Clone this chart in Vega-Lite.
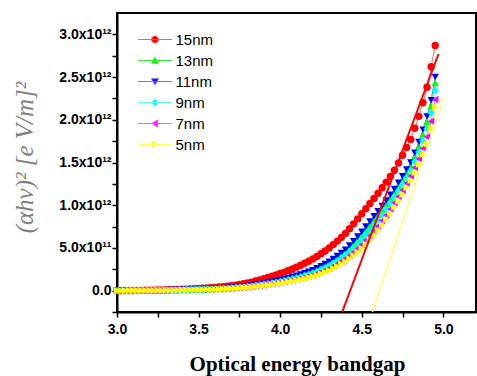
{
"$schema":"https://vega.github.io/schema/vega-lite/v6.json",
"autosize":"none",
"width":359,"height":299,
"padding":{"left":117,"top":13,"right":1,"bottom":64},
"background":"white",
"config":{"view":{"stroke":"#000","strokeWidth":2},"axis":{"grid":false}},
"data":{"values":[
{"s":"15nm","x":3,"y":0},{"s":"15nm","x":3.025,"y":0},{"s":"15nm","x":3.05,"y":0.001},{"s":"15nm","x":3.075,"y":0.001},{"s":"15nm","x":3.1,"y":0.002},{"s":"15nm","x":3.125,"y":0.003},{"s":"15nm","x":3.15,"y":0.003},{"s":"15nm","x":3.175,"y":0.004},{"s":"15nm","x":3.2,"y":0.005},{"s":"15nm","x":3.225,"y":0.006},
{"s":"15nm","x":3.25,"y":0.007},{"s":"15nm","x":3.275,"y":0.009},{"s":"15nm","x":3.3,"y":0.01},{"s":"15nm","x":3.325,"y":0.011},{"s":"15nm","x":3.35,"y":0.013},{"s":"15nm","x":3.375,"y":0.014},{"s":"15nm","x":3.4,"y":0.016},{"s":"15nm","x":3.425,"y":0.018},{"s":"15nm","x":3.45,"y":0.02},{"s":"15nm","x":3.475,"y":0.022},
{"s":"15nm","x":3.5,"y":0.025},{"s":"15nm","x":3.525,"y":0.028},{"s":"15nm","x":3.55,"y":0.031},{"s":"15nm","x":3.575,"y":0.034},{"s":"15nm","x":3.6,"y":0.038},{"s":"15nm","x":3.625,"y":0.042},{"s":"15nm","x":3.65,"y":0.046},{"s":"15nm","x":3.675,"y":0.051},{"s":"15nm","x":3.7,"y":0.057},{"s":"15nm","x":3.725,"y":0.064},
{"s":"15nm","x":3.75,"y":0.071},{"s":"15nm","x":3.775,"y":0.08},{"s":"15nm","x":3.8,"y":0.09},{"s":"15nm","x":3.825,"y":0.1},{"s":"15nm","x":3.85,"y":0.112},{"s":"15nm","x":3.875,"y":0.125},{"s":"15nm","x":3.9,"y":0.14},{"s":"15nm","x":3.925,"y":0.154},{"s":"15nm","x":3.95,"y":0.168},{"s":"15nm","x":3.975,"y":0.184},
{"s":"15nm","x":4,"y":0.2},{"s":"15nm","x":4.025,"y":0.217},{"s":"15nm","x":4.05,"y":0.235},{"s":"15nm","x":4.075,"y":0.254},{"s":"15nm","x":4.1,"y":0.275},{"s":"15nm","x":4.125,"y":0.297},{"s":"15nm","x":4.15,"y":0.32},{"s":"15nm","x":4.175,"y":0.344},{"s":"15nm","x":4.2,"y":0.37},{"s":"15nm","x":4.225,"y":0.4},
{"s":"15nm","x":4.25,"y":0.431},{"s":"15nm","x":4.275,"y":0.464},{"s":"15nm","x":4.3,"y":0.5},{"s":"15nm","x":4.325,"y":0.539},{"s":"15nm","x":4.35,"y":0.58},{"s":"15nm","x":4.375,"y":0.624},{"s":"15nm","x":4.4,"y":0.67},{"s":"15nm","x":4.425,"y":0.725},{"s":"15nm","x":4.45,"y":0.782},{"s":"15nm","x":4.475,"y":0.84},
{"s":"15nm","x":4.5,"y":0.9},{"s":"15nm","x":4.525,"y":0.96},{"s":"15nm","x":4.55,"y":1.02},{"s":"15nm","x":4.575,"y":1.08},{"s":"15nm","x":4.6,"y":1.14},{"s":"15nm","x":4.625,"y":1.205},{"s":"15nm","x":4.65,"y":1.27},{"s":"15nm","x":4.675,"y":1.338},{"s":"15nm","x":4.7,"y":1.41},{"s":"15nm","x":4.725,"y":1.495},
{"s":"15nm","x":4.75,"y":1.585},{"s":"15nm","x":4.775,"y":1.675},{"s":"15nm","x":4.8,"y":1.77},{"s":"15nm","x":4.825,"y":1.9},{"s":"15nm","x":4.85,"y":2.04},{"s":"15nm","x":4.875,"y":2.2},{"s":"15nm","x":4.9,"y":2.38},{"s":"15nm","x":4.925,"y":2.62},{"s":"15nm","x":4.95,"y":2.87},
{"s":"13nm","x":3,"y":0},{"s":"13nm","x":3.025,"y":0},{"s":"13nm","x":3.05,"y":0},{"s":"13nm","x":3.075,"y":0.001},{"s":"13nm","x":3.1,"y":0.001},{"s":"13nm","x":3.125,"y":0.001},{"s":"13nm","x":3.15,"y":0.002},{"s":"13nm","x":3.175,"y":0.002},{"s":"13nm","x":3.2,"y":0.003},{"s":"13nm","x":3.225,"y":0.004},
{"s":"13nm","x":3.25,"y":0.004},{"s":"13nm","x":3.275,"y":0.005},{"s":"13nm","x":3.3,"y":0.006},{"s":"13nm","x":3.325,"y":0.007},{"s":"13nm","x":3.35,"y":0.007},{"s":"13nm","x":3.375,"y":0.008},{"s":"13nm","x":3.4,"y":0.009},{"s":"13nm","x":3.425,"y":0.01},{"s":"13nm","x":3.45,"y":0.011},{"s":"13nm","x":3.475,"y":0.013},
{"s":"13nm","x":3.5,"y":0.014},{"s":"13nm","x":3.525,"y":0.016},{"s":"13nm","x":3.55,"y":0.018},{"s":"13nm","x":3.575,"y":0.02},{"s":"13nm","x":3.6,"y":0.021},{"s":"13nm","x":3.625,"y":0.024},{"s":"13nm","x":3.65,"y":0.027},{"s":"13nm","x":3.675,"y":0.03},{"s":"13nm","x":3.7,"y":0.034},{"s":"13nm","x":3.725,"y":0.037},
{"s":"13nm","x":3.75,"y":0.042},{"s":"13nm","x":3.775,"y":0.047},{"s":"13nm","x":3.8,"y":0.052},{"s":"13nm","x":3.825,"y":0.058},{"s":"13nm","x":3.85,"y":0.065},{"s":"13nm","x":3.875,"y":0.072},{"s":"13nm","x":3.9,"y":0.08},{"s":"13nm","x":3.925,"y":0.089},{"s":"13nm","x":3.95,"y":0.098},{"s":"13nm","x":3.975,"y":0.107},
{"s":"13nm","x":4,"y":0.118},{"s":"13nm","x":4.025,"y":0.129},{"s":"13nm","x":4.05,"y":0.14},{"s":"13nm","x":4.075,"y":0.152},{"s":"13nm","x":4.1,"y":0.164},{"s":"13nm","x":4.125,"y":0.178},{"s":"13nm","x":4.15,"y":0.193},{"s":"13nm","x":4.175,"y":0.209},{"s":"13nm","x":4.2,"y":0.225},{"s":"13nm","x":4.225,"y":0.247},
{"s":"13nm","x":4.25,"y":0.269},{"s":"13nm","x":4.275,"y":0.294},{"s":"13nm","x":4.3,"y":0.319},{"s":"13nm","x":4.325,"y":0.349},{"s":"13nm","x":4.35,"y":0.382},{"s":"13nm","x":4.375,"y":0.416},{"s":"13nm","x":4.4,"y":0.452},{"s":"13nm","x":4.425,"y":0.497},{"s":"13nm","x":4.45,"y":0.546},{"s":"13nm","x":4.475,"y":0.597},
{"s":"13nm","x":4.5,"y":0.65},{"s":"13nm","x":4.525,"y":0.708},{"s":"13nm","x":4.55,"y":0.766},{"s":"13nm","x":4.575,"y":0.825},{"s":"13nm","x":4.6,"y":0.884},{"s":"13nm","x":4.625,"y":0.946},{"s":"13nm","x":4.65,"y":1.01},{"s":"13nm","x":4.675,"y":1.078},{"s":"13nm","x":4.7,"y":1.147},{"s":"13nm","x":4.725,"y":1.221},
{"s":"13nm","x":4.75,"y":1.297},{"s":"13nm","x":4.775,"y":1.376},{"s":"13nm","x":4.8,"y":1.458},{"s":"13nm","x":4.825,"y":1.569},{"s":"13nm","x":4.85,"y":1.688},{"s":"13nm","x":4.875,"y":1.827},{"s":"13nm","x":4.9,"y":1.976},{"s":"13nm","x":4.925,"y":2.164},{"s":"13nm","x":4.95,"y":2.43},
{"s":"11nm","x":3,"y":0},{"s":"11nm","x":3.025,"y":0},{"s":"11nm","x":3.05,"y":0},{"s":"11nm","x":3.075,"y":0.001},{"s":"11nm","x":3.1,"y":0.001},{"s":"11nm","x":3.125,"y":0.001},{"s":"11nm","x":3.15,"y":0.002},{"s":"11nm","x":3.175,"y":0.002},{"s":"11nm","x":3.2,"y":0.003},{"s":"11nm","x":3.225,"y":0.004},
{"s":"11nm","x":3.25,"y":0.004},{"s":"11nm","x":3.275,"y":0.005},{"s":"11nm","x":3.3,"y":0.006},{"s":"11nm","x":3.325,"y":0.007},{"s":"11nm","x":3.35,"y":0.008},{"s":"11nm","x":3.375,"y":0.009},{"s":"11nm","x":3.4,"y":0.01},{"s":"11nm","x":3.425,"y":0.011},{"s":"11nm","x":3.45,"y":0.012},{"s":"11nm","x":3.475,"y":0.014},
{"s":"11nm","x":3.5,"y":0.015},{"s":"11nm","x":3.525,"y":0.017},{"s":"11nm","x":3.55,"y":0.019},{"s":"11nm","x":3.575,"y":0.021},{"s":"11nm","x":3.6,"y":0.023},{"s":"11nm","x":3.625,"y":0.026},{"s":"11nm","x":3.65,"y":0.029},{"s":"11nm","x":3.675,"y":0.032},{"s":"11nm","x":3.7,"y":0.036},{"s":"11nm","x":3.725,"y":0.04},
{"s":"11nm","x":3.75,"y":0.045},{"s":"11nm","x":3.775,"y":0.05},{"s":"11nm","x":3.8,"y":0.055},{"s":"11nm","x":3.825,"y":0.062},{"s":"11nm","x":3.85,"y":0.069},{"s":"11nm","x":3.875,"y":0.077},{"s":"11nm","x":3.9,"y":0.085},{"s":"11nm","x":3.925,"y":0.094},{"s":"11nm","x":3.95,"y":0.104},{"s":"11nm","x":3.975,"y":0.114},
{"s":"11nm","x":4,"y":0.125},{"s":"11nm","x":4.025,"y":0.137},{"s":"11nm","x":4.05,"y":0.149},{"s":"11nm","x":4.075,"y":0.162},{"s":"11nm","x":4.1,"y":0.175},{"s":"11nm","x":4.125,"y":0.19},{"s":"11nm","x":4.15,"y":0.206},{"s":"11nm","x":4.175,"y":0.223},{"s":"11nm","x":4.2,"y":0.24},{"s":"11nm","x":4.225,"y":0.263},
{"s":"11nm","x":4.25,"y":0.287},{"s":"11nm","x":4.275,"y":0.313},{"s":"11nm","x":4.3,"y":0.34},{"s":"11nm","x":4.325,"y":0.372},{"s":"11nm","x":4.35,"y":0.406},{"s":"11nm","x":4.375,"y":0.442},{"s":"11nm","x":4.4,"y":0.48},{"s":"11nm","x":4.425,"y":0.528},{"s":"11nm","x":4.45,"y":0.58},{"s":"11nm","x":4.475,"y":0.634},
{"s":"11nm","x":4.5,"y":0.69},{"s":"11nm","x":4.525,"y":0.75},{"s":"11nm","x":4.55,"y":0.81},{"s":"11nm","x":4.575,"y":0.87},{"s":"11nm","x":4.6,"y":0.93},{"s":"11nm","x":4.625,"y":0.992},{"s":"11nm","x":4.65,"y":1.055},{"s":"11nm","x":4.675,"y":1.122},{"s":"11nm","x":4.7,"y":1.19},{"s":"11nm","x":4.725,"y":1.264},
{"s":"11nm","x":4.75,"y":1.34},{"s":"11nm","x":4.775,"y":1.418},{"s":"11nm","x":4.8,"y":1.5},{"s":"11nm","x":4.825,"y":1.615},{"s":"11nm","x":4.85,"y":1.74},{"s":"11nm","x":4.875,"y":1.885},{"s":"11nm","x":4.9,"y":2.04},{"s":"11nm","x":4.925,"y":2.23},{"s":"11nm","x":4.95,"y":2.5},
{"s":"9nm","x":3,"y":0},{"s":"9nm","x":3.025,"y":0},{"s":"9nm","x":3.05,"y":0},{"s":"9nm","x":3.075,"y":0.001},{"s":"9nm","x":3.1,"y":0.001},{"s":"9nm","x":3.125,"y":0.001},{"s":"9nm","x":3.15,"y":0.002},{"s":"9nm","x":3.175,"y":0.002},{"s":"9nm","x":3.2,"y":0.003},{"s":"9nm","x":3.225,"y":0.003},
{"s":"9nm","x":3.25,"y":0.004},{"s":"9nm","x":3.275,"y":0.004},{"s":"9nm","x":3.3,"y":0.005},{"s":"9nm","x":3.325,"y":0.006},{"s":"9nm","x":3.35,"y":0.007},{"s":"9nm","x":3.375,"y":0.008},{"s":"9nm","x":3.4,"y":0.009},{"s":"9nm","x":3.425,"y":0.01},{"s":"9nm","x":3.45,"y":0.01},{"s":"9nm","x":3.475,"y":0.012},
{"s":"9nm","x":3.5,"y":0.013},{"s":"9nm","x":3.525,"y":0.014},{"s":"9nm","x":3.55,"y":0.016},{"s":"9nm","x":3.575,"y":0.018},{"s":"9nm","x":3.6,"y":0.019},{"s":"9nm","x":3.625,"y":0.022},{"s":"9nm","x":3.65,"y":0.025},{"s":"9nm","x":3.675,"y":0.027},{"s":"9nm","x":3.7,"y":0.031},{"s":"9nm","x":3.725,"y":0.034},
{"s":"9nm","x":3.75,"y":0.038},{"s":"9nm","x":3.775,"y":0.043},{"s":"9nm","x":3.8,"y":0.047},{"s":"9nm","x":3.825,"y":0.053},{"s":"9nm","x":3.85,"y":0.06},{"s":"9nm","x":3.875,"y":0.067},{"s":"9nm","x":3.9,"y":0.074},{"s":"9nm","x":3.925,"y":0.082},{"s":"9nm","x":3.95,"y":0.09},{"s":"9nm","x":3.975,"y":0.099},
{"s":"9nm","x":4,"y":0.108},{"s":"9nm","x":4.025,"y":0.119},{"s":"9nm","x":4.05,"y":0.129},{"s":"9nm","x":4.075,"y":0.14},{"s":"9nm","x":4.1,"y":0.151},{"s":"9nm","x":4.125,"y":0.164},{"s":"9nm","x":4.15,"y":0.177},{"s":"9nm","x":4.175,"y":0.192},{"s":"9nm","x":4.2,"y":0.206},{"s":"9nm","x":4.225,"y":0.226},
{"s":"9nm","x":4.25,"y":0.247},{"s":"9nm","x":4.275,"y":0.269},{"s":"9nm","x":4.3,"y":0.293},{"s":"9nm","x":4.325,"y":0.321},{"s":"9nm","x":4.35,"y":0.351},{"s":"9nm","x":4.375,"y":0.383},{"s":"9nm","x":4.4,"y":0.417},{"s":"9nm","x":4.425,"y":0.459},{"s":"9nm","x":4.45,"y":0.504},{"s":"9nm","x":4.475,"y":0.551},
{"s":"9nm","x":4.5,"y":0.6},{"s":"9nm","x":4.525,"y":0.655},{"s":"9nm","x":4.55,"y":0.711},{"s":"9nm","x":4.575,"y":0.768},{"s":"9nm","x":4.6,"y":0.827},{"s":"9nm","x":4.625,"y":0.889},{"s":"9nm","x":4.65,"y":0.954},{"s":"9nm","x":4.675,"y":1.023},{"s":"9nm","x":4.7,"y":1.093},{"s":"9nm","x":4.725,"y":1.167},
{"s":"9nm","x":4.75,"y":1.243},{"s":"9nm","x":4.775,"y":1.323},{"s":"9nm","x":4.8,"y":1.406},{"s":"9nm","x":4.825,"y":1.511},{"s":"9nm","x":4.85,"y":1.623},{"s":"9nm","x":4.875,"y":1.755},{"s":"9nm","x":4.9,"y":1.896},{"s":"9nm","x":4.925,"y":2.082},{"s":"9nm","x":4.95,"y":2.343},
{"s":"7nm","x":3,"y":0},{"s":"7nm","x":3.025,"y":0},{"s":"7nm","x":3.05,"y":0},{"s":"7nm","x":3.075,"y":0.001},{"s":"7nm","x":3.1,"y":0.001},{"s":"7nm","x":3.125,"y":0.001},{"s":"7nm","x":3.15,"y":0.001},{"s":"7nm","x":3.175,"y":0.002},{"s":"7nm","x":3.2,"y":0.002},{"s":"7nm","x":3.225,"y":0.003},
{"s":"7nm","x":3.25,"y":0.003},{"s":"7nm","x":3.275,"y":0.004},{"s":"7nm","x":3.3,"y":0.005},{"s":"7nm","x":3.325,"y":0.006},{"s":"7nm","x":3.35,"y":0.006},{"s":"7nm","x":3.375,"y":0.007},{"s":"7nm","x":3.4,"y":0.008},{"s":"7nm","x":3.425,"y":0.009},{"s":"7nm","x":3.45,"y":0.009},{"s":"7nm","x":3.475,"y":0.01},
{"s":"7nm","x":3.5,"y":0.011},{"s":"7nm","x":3.525,"y":0.013},{"s":"7nm","x":3.55,"y":0.014},{"s":"7nm","x":3.575,"y":0.016},{"s":"7nm","x":3.6,"y":0.017},{"s":"7nm","x":3.625,"y":0.019},{"s":"7nm","x":3.65,"y":0.022},{"s":"7nm","x":3.675,"y":0.024},{"s":"7nm","x":3.7,"y":0.027},{"s":"7nm","x":3.725,"y":0.03},
{"s":"7nm","x":3.75,"y":0.034},{"s":"7nm","x":3.775,"y":0.038},{"s":"7nm","x":3.8,"y":0.042},{"s":"7nm","x":3.825,"y":0.048},{"s":"7nm","x":3.85,"y":0.053},{"s":"7nm","x":3.875,"y":0.06},{"s":"7nm","x":3.9,"y":0.066},{"s":"7nm","x":3.925,"y":0.074},{"s":"7nm","x":3.95,"y":0.081},{"s":"7nm","x":3.975,"y":0.089},
{"s":"7nm","x":4,"y":0.097},{"s":"7nm","x":4.025,"y":0.106},{"s":"7nm","x":4.05,"y":0.115},{"s":"7nm","x":4.075,"y":0.125},{"s":"7nm","x":4.1,"y":0.135},{"s":"7nm","x":4.125,"y":0.147},{"s":"7nm","x":4.15,"y":0.158},{"s":"7nm","x":4.175,"y":0.171},{"s":"7nm","x":4.2,"y":0.184},{"s":"7nm","x":4.225,"y":0.202},
{"s":"7nm","x":4.25,"y":0.22},{"s":"7nm","x":4.275,"y":0.24},{"s":"7nm","x":4.3,"y":0.261},{"s":"7nm","x":4.325,"y":0.287},{"s":"7nm","x":4.35,"y":0.315},{"s":"7nm","x":4.375,"y":0.344},{"s":"7nm","x":4.4,"y":0.375},{"s":"7nm","x":4.425,"y":0.413},{"s":"7nm","x":4.45,"y":0.453},{"s":"7nm","x":4.475,"y":0.495},
{"s":"7nm","x":4.5,"y":0.54},{"s":"7nm","x":4.525,"y":0.592},{"s":"7nm","x":4.55,"y":0.645},{"s":"7nm","x":4.575,"y":0.701},{"s":"7nm","x":4.6,"y":0.758},{"s":"7nm","x":4.625,"y":0.821},{"s":"7nm","x":4.65,"y":0.886},{"s":"7nm","x":4.675,"y":0.956},{"s":"7nm","x":4.7,"y":1.029},{"s":"7nm","x":4.725,"y":1.103},
{"s":"7nm","x":4.75,"y":1.179},{"s":"7nm","x":4.775,"y":1.259},{"s":"7nm","x":4.8,"y":1.343},{"s":"7nm","x":4.825,"y":1.441},{"s":"7nm","x":4.85,"y":1.545},{"s":"7nm","x":4.875,"y":1.668},{"s":"7nm","x":4.9,"y":1.8},{"s":"7nm","x":4.925,"y":1.983},{"s":"7nm","x":4.95,"y":2.238},
{"s":"5nm","x":3,"y":0},{"s":"5nm","x":3.025,"y":0},{"s":"5nm","x":3.05,"y":0},{"s":"5nm","x":3.075,"y":0.001},{"s":"5nm","x":3.1,"y":0.001},{"s":"5nm","x":3.125,"y":0.001},{"s":"5nm","x":3.15,"y":0.001},{"s":"5nm","x":3.175,"y":0.002},{"s":"5nm","x":3.2,"y":0.002},{"s":"5nm","x":3.225,"y":0.002},
{"s":"5nm","x":3.25,"y":0.003},{"s":"5nm","x":3.275,"y":0.003},{"s":"5nm","x":3.3,"y":0.004},{"s":"5nm","x":3.325,"y":0.005},{"s":"5nm","x":3.35,"y":0.005},{"s":"5nm","x":3.375,"y":0.006},{"s":"5nm","x":3.4,"y":0.007},{"s":"5nm","x":3.425,"y":0.008},{"s":"5nm","x":3.45,"y":0.008},{"s":"5nm","x":3.475,"y":0.009},
{"s":"5nm","x":3.5,"y":0.01},{"s":"5nm","x":3.525,"y":0.011},{"s":"5nm","x":3.55,"y":0.012},{"s":"5nm","x":3.575,"y":0.014},{"s":"5nm","x":3.6,"y":0.015},{"s":"5nm","x":3.625,"y":0.017},{"s":"5nm","x":3.65,"y":0.019},{"s":"5nm","x":3.675,"y":0.021},{"s":"5nm","x":3.7,"y":0.024},{"s":"5nm","x":3.725,"y":0.027},
{"s":"5nm","x":3.75,"y":0.03},{"s":"5nm","x":3.775,"y":0.034},{"s":"5nm","x":3.8,"y":0.038},{"s":"5nm","x":3.825,"y":0.043},{"s":"5nm","x":3.85,"y":0.048},{"s":"5nm","x":3.875,"y":0.054},{"s":"5nm","x":3.9,"y":0.06},{"s":"5nm","x":3.925,"y":0.067},{"s":"5nm","x":3.95,"y":0.073},{"s":"5nm","x":3.975,"y":0.08},
{"s":"5nm","x":4,"y":0.088},{"s":"5nm","x":4.025,"y":0.096},{"s":"5nm","x":4.05,"y":0.104},{"s":"5nm","x":4.075,"y":0.113},{"s":"5nm","x":4.1,"y":0.122},{"s":"5nm","x":4.125,"y":0.132},{"s":"5nm","x":4.15,"y":0.142},{"s":"5nm","x":4.175,"y":0.153},{"s":"5nm","x":4.2,"y":0.165},{"s":"5nm","x":4.225,"y":0.181},
{"s":"5nm","x":4.25,"y":0.198},{"s":"5nm","x":4.275,"y":0.216},{"s":"5nm","x":4.3,"y":0.235},{"s":"5nm","x":4.325,"y":0.259},{"s":"5nm","x":4.35,"y":0.284},{"s":"5nm","x":4.375,"y":0.311},{"s":"5nm","x":4.4,"y":0.34},{"s":"5nm","x":4.425,"y":0.374},{"s":"5nm","x":4.45,"y":0.41},{"s":"5nm","x":4.475,"y":0.449},
{"s":"5nm","x":4.5,"y":0.49},{"s":"5nm","x":4.525,"y":0.539},{"s":"5nm","x":4.55,"y":0.59},{"s":"5nm","x":4.575,"y":0.644},{"s":"5nm","x":4.6,"y":0.7},{"s":"5nm","x":4.625,"y":0.764},{"s":"5nm","x":4.65,"y":0.83},{"s":"5nm","x":4.675,"y":0.901},{"s":"5nm","x":4.7,"y":0.975},{"s":"5nm","x":4.725,"y":1.049},
{"s":"5nm","x":4.75,"y":1.125},{"s":"5nm","x":4.775,"y":1.206},{"s":"5nm","x":4.8,"y":1.29},{"s":"5nm","x":4.825,"y":1.383},{"s":"5nm","x":4.85,"y":1.48},{"s":"5nm","x":4.875,"y":1.596},{"s":"5nm","x":4.9,"y":1.72},{"s":"5nm","x":4.925,"y":1.9},{"s":"5nm","x":4.95,"y":2.15}
]},
"encoding":{
  "x":{
    "field":"x","type":"quantitative",
    "scale":{"domain":[3,5.2],"nice":false,"zero":false},
    "axis":{
      "title":"Optical energy bandgap",
      "values":[3,3.25,3.5,3.75,4,4.25,4.5,4.75,5],
      "labelExpr":"abs(datum.value*2 - round(datum.value*2)) > 0.01 ? '' : format(datum.value, '.1f')",
      "labelFont":"Liberation Sans","labelFontWeight":"bold","labelFontSize":14,"labelColor":"#000","labelPadding":5,"labelFlush":false,"labelOverlap":false,
      "tickSize":5,"tickColor":"#000","tickWidth":1.5,"domainColor":"#000","domainWidth":2,
      "titleFont":"Liberation Serif","titleFontWeight":"bold","titleFontSize":21,"titleColor":"#000",
      "titleX":180,"titleY":58,"titleBaseline":"alphabetic","titleAlign":"center",
      "encode":{
        "ticks":{
          "update":{
            "y2":{"signal":"abs(datum.value*2 - round(datum.value*2)) < 0.01 ? 5 : 3"}
          }
        }
      }
    }
  },
  "y":{
    "field":"y","type":"quantitative",
    "scale":{"domain":[-0.25,3.25],"nice":false,"zero":false},
    "axis":{
      "title":"(αhν)² [e V/m]²",
      "values":[-0.25,0,0.25,0.5,0.75,1,1.25,1.5,1.75,2,2.25,2.5,2.75,3],
      "labelExpr":"abs(datum.value*2 - round(datum.value*2)) > 0.01 ? '' : datum.value == 0 ? '0.0' : datum.value == 0.5 ? '5.0x10¹¹' : format(datum.value, '.1f') + 'x10¹²'",
      "labelFont":"Liberation Sans","labelFontWeight":"bold","labelFontSize":14,"labelColor":"#000","labelPadding":1,"labelOverlap":false,"labelFlush":false,
      "tickSize":5,"tickColor":"#000","tickWidth":1.5,"domainColor":"#000","domainWidth":2,
      "titleFont":"Liberation Serif","titleFontStyle":"italic","titleFontWeight":"normal","titleFontSize":25,"titleColor":"#808080",
      "titleAngle":-90,"titleX":-93,"titleY":144,"titleAlign":"center","titleBaseline":"middle",
      "encode":{
        "ticks":{
          "update":{
            "x2":{"signal":"abs(datum.value*2 - round(datum.value*2)) < 0.01 ? -5 : -3"}
          }
        }
      }
    }
  }
},
"layer":[
  {
    "mark":{"type":"line","strokeWidth":1,"opacity":0.6},
    "encoding":{
      "color":{
        "field":"s","type":"nominal","legend":null,
        "scale":{"domain":["15nm","13nm","11nm","9nm","7nm","5nm"],"range":["#ff0000","#00ff00","#0000ff","#00ffff","#ff00ff","#ffff00"]}
      }
    }
  },
  {
    "mark":{"type":"point","filled":true,"size":55,"opacity":1,"strokeWidth":0},
    "encoding":{
      "color":{
        "field":"s","type":"nominal","legend":null,
        "scale":{"domain":["15nm","13nm","11nm","9nm","7nm","5nm"],"range":["#ff0000","#00ff00","#0000ff","#00ffff","#ff00ff","#ffff00"]}
      },
      "shape":{
        "field":"s","type":"nominal","legend":null,
        "scale":{"domain":["15nm","13nm","11nm","9nm","7nm","5nm"],"range":["circle","triangle-up","triangle-down","diamond","triangle-left","triangle-right"]}
      }
    }
  },
  {
    "transform":[{"filter":"datum.x > 100"}],
    "mark":{"type":"point","strokeWidth":1,"opacity":1},
    "encoding":{
      "fill":{
        "field":"s","type":"nominal",
        "scale":{"domain":["15nm","13nm","11nm","9nm","7nm","5nm"],"range":["#ff0000","#00ff00","#0000ff","#00ffff","#ff00ff","#ffff00"]},
        "legend":{"orient":"none","legendX":30.5,"legendY":19,"title":null,"symbolSize":100,"padding":0,"labelFont":"Liberation Sans","labelFontSize":15,"labelColor":"#000","labelOffset":13,"rowPadding":5,"symbolOpacity":1,"symbolStrokeWidth":1}
      },
      "stroke":{
        "field":"s","type":"nominal",
        "scale":{"domain":["15nm","13nm","11nm","9nm","7nm","5nm"],"range":["#ff5a5a","#33ee33","#6b6bff","#55ffff","#ff55ff","#ffff55"]},
        "legend":{"orient":"none","legendX":30.5,"legendY":19,"title":null,"symbolSize":100,"padding":0,"labelFont":"Liberation Sans","labelFontSize":15,"labelColor":"#000","labelOffset":13,"rowPadding":5,"symbolOpacity":1,"symbolStrokeWidth":1}
      },
      "shape":{
        "field":"s","type":"nominal",
        "scale":{"domain":["15nm","13nm","11nm","9nm","7nm","5nm"],"range":["M-3.4,0H3.4M-0.7,0A0.7,0.7,0,1,0,0.7,0A0.7,0.7,0,1,0,-0.7,0Z","M-3.4,0H3.4M0,-0.65L0.7,0.55L-0.7,0.55Z","M-3.4,0H3.4M0,0.65L0.7,-0.55L-0.7,-0.55Z","M-3.4,0H3.4M0,-0.8L0.65,0L0,0.8L-0.65,0Z","M-3.4,0H3.4M-0.65,0L0.55,-0.7L0.55,0.7Z","M-3.4,0H3.4M0.65,0L-0.55,-0.7L-0.55,0.7Z"]},
        "legend":{"orient":"none","legendX":30.5,"legendY":19,"title":null,"symbolSize":100,"padding":0,"labelFont":"Liberation Sans","labelFontSize":15,"labelColor":"#000","labelOffset":13,"rowPadding":5,"symbolOpacity":1,"symbolStrokeWidth":1}
      }
    }
  },
  {
    "data":{"values":[{"x":4.38,"y":-0.25},{"x":4.97,"y":2.77}]},
    "mark":{"type":"line","color":"#ff0000","strokeWidth":2,"clip":true},
    "encoding":{}
  },
  {
    "data":{"values":[{"x":4.565,"y":-0.25},{"x":5.0,"y":2.25}]},
    "mark":{"type":"line","color":"#ffff70","strokeWidth":1.5,"clip":true},
    "encoding":{}
  }
],
"resolve":{"scale":{"shape":"independent"},"legend":{"shape":"independent","fill":"independent","stroke":"independent"}}
}
